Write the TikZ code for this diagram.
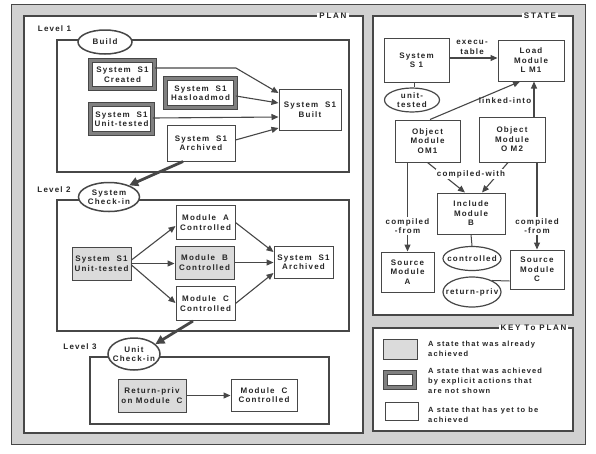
\documentclass[tikz,border=0pt]{standalone}
\usepackage{fontspec}
\setmainfont{Liberation Sans}[LetterSpace=15]
\usetikzlibrary{arrows.meta,shapes.geometric}
\definecolor{ln}{gray}{0.28}
\definecolor{bg}{gray}{0.82}
\definecolor{lt}{gray}{0.86}
\definecolor{ring}{gray}{0.5}
\begin{document}
\begin{tikzpicture}[x=1pt,y=-1pt,
  every node/.style={font=\bfseries\fontsize{8}{9.5}\selectfont, text=black!85},
  box/.style={draw=ln, line width=1pt, fill=white, align=center, inner sep=0pt},
  donebox/.style={box, fill=lt},
  ringbox/.style={box, double=ring, double distance=3.4pt, line width=0.8pt},
  oval/.style={ellipse, draw=ln, line width=1.5pt, fill=white, align=center, inner sep=-6pt},
  frame/.style={draw=ln, line width=1.5pt},
  panel/.style={draw=ln, line width=1.8pt, fill=white},
  arr/.style={draw=ln, line width=1.1pt, -{Triangle[length=7pt,width=6pt]}},
  bigarr/.style={draw=ln, line width=2.8pt, -{Triangle[length=9pt,width=9pt]}},
  link/.style={draw=ln, line width=1pt},
  lbl/.style={align=center, inner sep=1pt},
  wlbl/.style={lbl, fill=white},
  keytxt/.style={align=left, inner sep=1pt, anchor=west, font=\bfseries\fontsize{7.5}{10}\selectfont},
  title/.style={fill=white, inner xsep=2pt, inner ysep=0.5pt, font=\bfseries\fontsize{8}{9.5}\selectfont\addfontfeature{LetterSpace=22}},
]
\fill[white] (0,0) rectangle (596,453);
\useasboundingbox (0,0) rectangle (596,453);
% outer frame and panels
\draw[ln, line width=0.8pt, fill=bg] (11,4) rectangle (585,444);
\draw[panel] (24,16) rectangle (363,433);
\draw[panel] (373,16) rectangle (573,315);
\draw[panel] (373,328) rectangle (573,431);
\node[title] (plant) at (333,16) {PLAN};
\node[title] (statet) at (540,16) {STATE};
\node[title] (keyt) at (533.5,328) {KEY To PLAN};

% ---------- Level 1
\node (lv1) at (54.5,29) {Level 1};
\draw[frame] (57,40) rectangle (349,172);
\node[oval, minimum width=54pt, minimum height=24pt] (build) at (105,42) {Build};
\node[ringbox, minimum width=64pt, minimum height=28pt] (created) at (122.5,74.5) {System~ S1\\Created};
\node[ringbox, minimum width=70pt, minimum height=29pt] (hasload) at (200.5,93) {System~ S1\\Hasloadmod};
\node[ringbox, minimum width=62pt, minimum height=29pt] (ut1) at (121.5,119) {System~ S1\\Unit-tested};
\node[box, minimum width=68pt, minimum height=36pt] (arch1) at (201,143) {System~ S1\\Archived};
\node[box, minimum width=62pt, minimum height=41pt] (built) at (310,109.5) {System~ S1\\Built};
\draw[arr] ([yshift=6.5pt]created.east) -- ++(81,0) -- ([yshift=16.5pt]built.west);
\draw[arr] ([yshift=-3pt]hasload.east) -- ([yshift=6.5pt]built.west);
\draw[arr] ([yshift=1pt]ut1.east) -- ([yshift=-7.5pt]built.west);
\draw[arr] ([yshift=3pt]arch1.east) -- ([yshift=-18.5pt]built.west);

% ---------- Level 2
\node (lv2) at (54,190) {Level 2};
\draw[frame] (57,200) rectangle (349,331);
\node[oval, minimum width=61pt, minimum height=29pt] (ck2) at (109,197) {System\\Check-in};
\node[donebox, minimum width=59pt, minimum height=33pt] (ut2) at (101.5,263.5) {System~ S1\\Unit-tested};
\node[box, minimum width=59pt, minimum height=34pt] (ma) at (205.5,222.5) {Module~ A\\Controlled};
\node[donebox, minimum width=59pt, minimum height=33pt] (mb) at (204.5,262.5) {Module~ B\\Controlled};
\node[box, minimum width=59pt, minimum height=34pt] (mc) at (205.5,303.5) {Module~ C\\Controlled};
\node[box, minimum width=59pt, minimum height=32pt] (arch2) at (303.5,262) {System~ S1\\Archived};
\draw[arr] ([yshift=3.5pt]ut2.east) -- ([yshift=-3.5pt]ma.west);
\draw[arr] (ut2.east) -- (ut2.east -| mb.west);
\draw[arr] ([yshift=-1.5pt]ut2.east) -- ([yshift=0.5pt]mc.west);
\draw[arr] (ma.east) -- ([yshift=10pt]arch2.west);
\draw[arr] (mb.east) -- (mb.east -| arch2.west);
\draw[arr] (mc.east) -- ([yshift=-11pt]arch2.west);
\draw[bigarr] ([xshift=-18pt]arch1.south) -- (ck2.30);

% ---------- Level 3
\node (lv3) at (80,347) {Level 3};
\draw[frame] (90,357) rectangle (329,424);
\node[oval, minimum width=52pt, minimum height=32pt] (uc3) at (134,354) {Unit\\Check-in};
\node[donebox, minimum width=68pt, minimum height=33pt] (rp) at (152,395.5) {Return-priv\\on Module~ C};
\node[box, minimum width=66pt, minimum height=32pt] (mc3) at (264,395) {Module~ C\\Controlled};
\draw[arr] (rp.east) -- (rp.east -| mc3.west);
\draw[bigarr] ([xshift=-12.5pt]mc.south) -- (uc3.25);

% ---------- STATE
\node[box, minimum width=65pt, minimum height=44pt] (sys) at (416.5,60) {System\\S 1};
\node[box, minimum width=66pt, minimum height=41pt] (lm1) at (531,60.5) {Load\\Module\\L M1};
\node[oval, line width=1.2pt, minimum width=55pt, minimum height=24pt] (ute) at (412,100) {unit-\\tested};
\node[box, minimum width=65pt, minimum height=42pt] (om1) at (427.5,141) {Object\\Module\\OM1};
\node[box, minimum width=66pt, minimum height=45pt] (om2) at (512,139.5) {Object\\Module\\O M2};
\node[box, minimum width=68pt, minimum height=41pt] (incb) at (471,213.5) {Include\\Module\\B};
\node[oval, line width=1.2pt, minimum width=58pt, minimum height=24pt] (ctle) at (472,258.5) {controlled};
\node[box, minimum width=53pt, minimum height=40pt] (sa) at (407.5,272) {Source\\Module\\A};
\node[box, minimum width=54pt, minimum height=39pt] (sc) at (537,269.5) {Source\\Module\\C};
\node[oval, line width=1.2pt, minimum width=58pt, minimum height=30pt] (rpe) at (472,292) {return-priv};

\draw[arr] ([yshift=2pt]sys.east) -- ([yshift=2pt]sys.east -| lm1.west);
\node[lbl] (exl) at (472,47.5) {execu-\\table};
\draw[link] ([xshift=-2.5pt]sys.south) -- ([xshift=2pt]ute.north);
\draw[arr] ([xshift=2.5pt]om1.north) -- ([xshift=-11pt]lm1.south);
\draw[arr] ([xshift=22pt]om2.north) -- ([xshift=3pt]lm1.south);
\node[lbl] (lkl) at (505,101) {linked-into};
\draw[arr] (om1.south) -- ([xshift=-6pt]incb.north);
\draw[arr] ([xshift=-4pt]om2.south) -- ([xshift=11pt]incb.north);
\node[wlbl] (cwl) at (471,174) {compiled-with};
\draw[arr] (sa.north |- om1.south) -- (sa.north);
\node[wlbl] (cfa) at (407.5,226) {compiled\\-from};
\draw[arr] (sc.north |- om2.south) -- (sc.north);
\node[wlbl] (cfc) at (537,226) {compiled\\-from};
\draw[link] (incb.south) -- (ctle.north);
\draw[link] ([yshift=-11.5pt]sc.west) -- (rpe.30);

% ---------- KEY
\node[donebox, minimum width=34pt, minimum height=20pt] (k1) at (400,349) {};
\node[ringbox, minimum width=29pt, minimum height=15pt] (k2) at (400,380) {};
\node[box, minimum width=33pt, minimum height=18pt] (k3) at (401.5,411) {};
\node[keytxt] (t1) at (427,349) {A state that was already\\achieved};
\node[keytxt] (t2) at (427,381) {A state that was achieved\\by explicit actions that\\are not shown};
\node[keytxt] (t3) at (427,414.5) {A state that has yet to be\\achieved};
\end{tikzpicture}
\end{document}
